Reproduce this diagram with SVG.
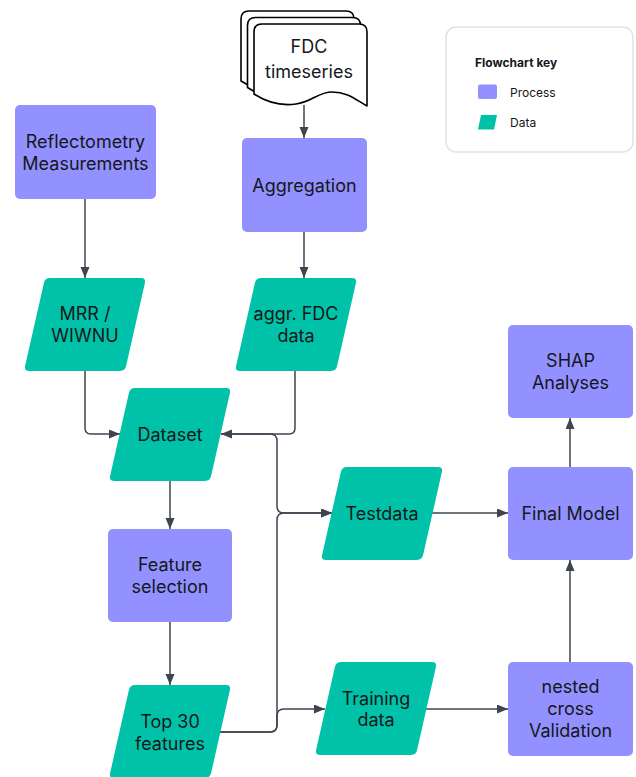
<svg xmlns="http://www.w3.org/2000/svg" width="636" height="777" viewBox="0 0 636 777">
<style>
.proc{fill:#9391ff}
.data{fill:#00c2a8}
.t{font-family:Inter,"Liberation Sans",sans-serif;font-size:18px;fill:#15171a;text-anchor:middle}
.k{font-family:Inter,"Liberation Sans",sans-serif;font-size:12px;fill:#15171a}
.doc{fill:#ffffff;stroke:#000000;stroke-width:1.6;stroke-linejoin:round}
.ca{fill:none;stroke:#3f4550;stroke-width:1.5;marker-end:url(#arr)}
</style>
<defs>
<marker id="arr" markerUnits="userSpaceOnUse" markerWidth="11" markerHeight="10" refX="11" refY="4.5" orient="auto">
<path d="M0,0 L11,4.5 L0,9 Z" fill="#3f4550"/>
</marker>
<path id="para" d="M26,0 H117 Q122,0 120.9,4.88 L102.1,88.12 Q101,93 96,93 H5 Q0,93 1.1,88.12 L19.9,4.88 Q21,0 26,0 Z"/>
<path id="docshape" d="M0,70 V8 Q0,0 8,0 H105 Q113,0 113,8 V82 C102,76 94,68 78,68 C64,68 58,78 42,80 C28,82 14,79 0,70 Z"/>
</defs>

<g id="legend">
<rect x="446" y="27" width="187" height="125" rx="10" fill="#ffffff" stroke="#dfe2e7" stroke-width="1.5"/>
<text class="k" x="475" y="67" font-weight="bold">Flowchart key</text>
<rect x="478" y="84.5" width="19" height="14.5" rx="2" class="proc"/>
<text class="k" x="510" y="97">Process</text>
<path d="M481,115 H497 L494,129.5 H478 Z" class="data"/>
<text class="k" x="510" y="127">Data</text>
</g>

<g id="connectors">
<path class="ca" d="M85,199 V278"/>
<path class="ca" d="M304,105 V138"/>
<path class="ca" d="M304,232 V278"/>
<path class="ca" d="M85,371 V428 Q85,434 91,434 H120"/>
<path class="ca" d="M295,371 V428 Q295,434 289,434 H221"/>
<path class="ca" d="M170,481 V529"/>
<path class="ca" d="M170,622 V685"/>
<path class="ca" d="M221,434 H270 Q277,434 277,441 V506 Q277,513 284,513 H332"/>
<path class="ca" d="M220,732 H270 Q277,732 277,725 V520 Q277,513 284,513 H332"/>
<path class="ca" d="M220,732 H270 Q277,732 277,725 V716 Q277,709 284,709 H325"/>
<path class="ca" d="M432,513 H508"/>
<path class="ca" d="M426,709 H508"/>
<path class="ca" d="M570,662 V560"/>
<path class="ca" d="M570,467 V418"/>
</g>

<g id="fdc-timeseries">
<use href="#docshape" class="doc" transform="translate(241,11)"/>
<use href="#docshape" class="doc" transform="translate(247.5,17.5)"/>
<path class="doc" d="M254,94 V32 Q254,24 262,24 H359 Q367,24 367,32 V106 C356,100 348,92 332,92 C318,92 312,102 296,104 C282,106 268,103 254,94 Z"/>
<text class="t" x="309" y="53">FDC</text>
<text class="t" x="309" y="78">timeseries</text>
</g>

<g id="reflectometry">
<rect x="15" y="105" width="141" height="94" rx="5" class="proc"/>
<text class="t" x="85.5" y="148">Reflectometry</text>
<text class="t" x="85.5" y="170">Measurements</text>
</g>

<g id="aggregation">
<rect x="242" y="138" width="125" height="94" rx="5" class="proc"/>
<text class="t" x="304.5" y="192">Aggregation</text>
</g>

<g id="mrr">
<use href="#para" class="data" transform="translate(24,278)"/>
<text class="t" x="85" y="320">MRR /</text>
<text class="t" x="85" y="342">WIWNU</text>
</g>

<g id="aggr-fdc">
<use href="#para" class="data" transform="translate(235,278)"/>
<text class="t" x="296" y="320">aggr. FDC</text>
<text class="t" x="296" y="342">data</text>
</g>

<g id="dataset">
<use href="#para" class="data" transform="translate(109,388)"/>
<text class="t" x="170" y="440.5">Dataset</text>
</g>

<g id="feature-selection">
<rect x="108" y="529" width="124" height="93" rx="5" class="proc"/>
<text class="t" x="170" y="571">Feature</text>
<text class="t" x="170" y="593">selection</text>
</g>

<g id="top30">
<use href="#para" class="data" transform="translate(109,685)"/>
<text class="t" x="170" y="728">Top 30</text>
<text class="t" x="170" y="750">features</text>
</g>

<g id="testdata">
<use href="#para" class="data" transform="translate(321,467)"/>
<text class="t" x="382" y="519.5">Testdata</text>
</g>

<g id="training">
<use href="#para" class="data" transform="translate(315,662)"/>
<text class="t" x="376" y="705">Training</text>
<text class="t" x="376" y="726">data</text>
</g>

<g id="shap">
<rect x="508" y="325" width="125" height="93" rx="5" class="proc"/>
<text class="t" x="570.5" y="367">SHAP</text>
<text class="t" x="570.5" y="389">Analyses</text>
</g>

<g id="final-model">
<rect x="508" y="467" width="125" height="93" rx="5" class="proc"/>
<text class="t" x="570.5" y="519.5">Final Model</text>
</g>

<g id="nested-cv">
<rect x="508" y="662" width="125" height="94" rx="5" class="proc"/>
<text class="t" x="570.5" y="693">nested</text>
<text class="t" x="570.5" y="715">cross</text>
<text class="t" x="570.5" y="737">Validation</text>
</g>
</svg>
